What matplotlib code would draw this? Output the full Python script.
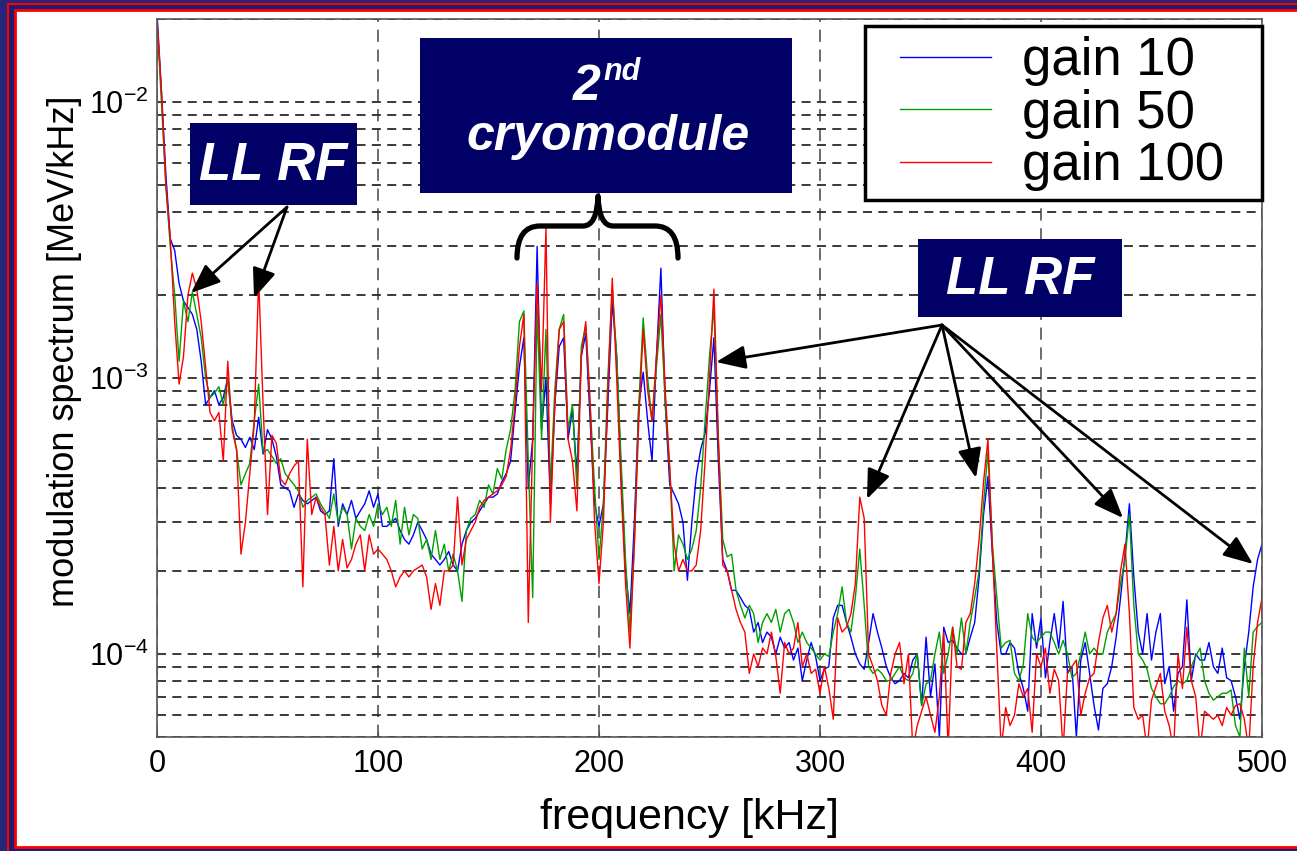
import numpy as np
import matplotlib
matplotlib.use('Agg')
import matplotlib.pyplot as plt
from matplotlib.patches import Rectangle, PathPatch
from matplotlib.path import Path
from matplotlib.transforms import Affine2D

# frequency grid [kHz], one point every 2 kHz
freq = np.arange(0, 501, 2)

# modulation spectrum, in units of 1e-4 MeV/kHz
gain10 = [
    210, 110, 55, 32, 29, 22, 19, 18, 17, 15,
    11.5, 8, 8.5, 9, 8, 8.5, 10, 7, 6.2, 6,
    5.6, 6.1, 5.5, 7.2, 5.3, 6.5, 6, 5.2, 4.1, 4.0,
    3.9, 3.4, 3.8, 3.6, 3.5, 3.6, 3.7, 3.3, 3.2, 3.3,
    5.1, 2.9, 3.5, 3.2, 3.6, 3.1, 3.3, 3.5, 3.9, 3.4,
    3.8,
    2.9, 2.9, 3.0, 3.1, 2.8, 2.6, 2.5, 2.7, 3.0, 2.8,
    2.6, 2.3, 2.2, 2.1, 2.2, 2.35, 2.1, 2.0, 2.5, 2.8,
    3.0, 3.1, 3.3, 3.5, 3.7, 3.7, 3.8, 4.2, 4.5, 5.0,
    7.5, 11, 14, 4, 6, 30, 6.5, 10, 3.5, 8,
    13, 14, 6, 7.7, 4.5, 12, 14.5, 7, 3.5, 2.9,
    3.5, 8, 19, 12, 4.5, 2, 1.4, 3, 8, 10.5,
    7, 5, 12, 25, 8, 4.1, 3.8, 3.5, 3.0, 1.85,
    3.0, 4.4, 5.5, 6.3, 9, 14, 5, 2.2, 2.0, 1.7,
    1.7, 1.6, 1.5, 1.45, 1.2, 1.3, 1.1, 1.2, 1.15, 1.0,
    1.15, 1.05, 1.1, 0.95, 1.05, 0.8, 0.95, 1.1, 0.98, 0.8,
    0.88, 0.9, 1.35, 1.5, 1.5, 1.3, 1.15, 1.0, 0.92, 0.88,
    1.1, 1.4, 1.2, 1.05, 0.9, 0.82, 0.78, 0.8, 0.85, 0.82,
    0.95, 1.0, 0.65, 1.15, 0.7, 0.92, 0.5, 1.25, 1.1, 1.12,
    1.05, 1.0, 1.0, 1.15, 1.3, 1.9, 3.2, 4.4, 2.3, 1.3,
    1.0, 1.0, 1.1, 1.05, 0.85, 0.75, 0.62, 1.4, 1.05, 1.35,
    0.82, 1.1, 1.4, 1.05, 1.55, 0.85, 0.9, 0.5, 0.95, 1.1,
    0.85, 0.65, 0.53, 0.75, 0.78, 0.9, 1.15, 1.6, 2.3, 3.5,
    1.9, 1.2, 1.0, 1.4, 0.95, 1.2, 1.4, 0.78, 0.9, 0.62,
    0.85, 0.9, 1.57, 0.8, 1.0, 0.95, 0.95, 1.1, 0.9, 0.85,
    1.05, 0.82, 0.8, 0.7, 0.58, 0.9, 1.2, 1.75, 2.2, 2.5,
]
gain50 = [
    200, 100, 50, 30, 20, 11.5, 19, 16, 20.5, 17,
    14, 10, 8.5, 8.8, 9.3, 8, 10, 6.7, 5.5, 4.1,
    4.5, 4.9, 7, 9.5, 5.4, 5.5, 5.2, 4.9, 5.1, 4.5,
    4.3, 4.1, 3.9, 3.4, 3.6, 3.7, 3.8, 3.5, 3.3, 3.1,
    3.8, 3.0, 3.4, 3.2, 2.4, 3.1, 2.9, 2.8, 3.2, 2.9,
    3.5,
    3.2, 3.4, 2.9, 3.6, 2.5, 3.4, 2.7, 3.2, 3.1, 2.4,
    2.6, 2.2, 2.8, 2.2, 2.5, 2.0, 2.3, 2.0, 1.55, 2.8,
    3.1, 3.2, 3.6, 3.4, 4.1, 3.8, 4.7, 4.3, 5.5, 6.5,
    9, 16, 17.5, 5, 1.6, 18, 6, 15, 4, 9,
    15, 17, 6.5, 8, 4, 13, 15.5, 8, 4, 2.2,
    3.5, 10, 21, 12, 5, 2.2, 1.2, 2.5, 8, 16.5,
    10, 7, 11, 17, 8, 4.7, 2.0, 2.7, 2.5, 2.2,
    2.4, 2.8, 4, 7, 12, 18, 6, 2.6, 2.25, 2.3,
    1.7, 1.5, 1.35, 1.5, 1.4, 1.1, 1.3, 1.4, 1.3, 1.45,
    1.2, 1.4, 1.45, 1.3, 1.1, 1.2, 1.1, 1.05, 1.0, 0.95,
    1.0, 0.98, 1.2, 1.4, 1.75, 1.3, 1.2, 1.6, 2.4, 1.5,
    0.9, 0.85, 0.88, 0.85, 0.8, 0.8, 0.85, 0.9, 0.82, 0.8,
    0.85, 1.0, 0.65, 0.78, 0.8, 1.0, 1.2, 0.85, 1.0, 1.25,
    1.0, 1.35, 1.0, 1.3, 1.6, 2.0, 3.5, 5.4, 2.5, 1.6,
    1.05, 1.1, 1.12, 0.85, 0.8, 0.92, 1.4, 1.15, 1.1, 1.15,
    1.2, 1.2, 1.1, 1.0, 1.12, 1.0, 0.82, 0.85, 1.0, 1.2,
    1.0, 1.05, 1.0, 1.0, 1.2, 1.3, 1.4, 1.8, 2.2, 3.2,
    1.5, 1.0, 0.95, 0.88, 0.75, 0.7, 0.66, 0.66, 0.7, 0.76,
    0.8, 0.78, 0.8, 0.9, 0.98, 1.05, 0.8, 0.72, 0.68, 0.7,
    0.72, 0.72, 0.74, 0.55, 0.5, 1.05, 0.7, 1.2, 1.26, 1.3,
]
gain100 = [
    200, 110, 50, 32, 16, 9.5, 12, 20, 24, 21,
    16, 11, 7.5, 7, 7.5, 5, 11.5, 6.5, 5.5, 2.3,
    3, 4.5, 6.8, 23, 8, 3.2, 6.2, 5.8, 4.3, 4.1,
    4.5, 4.8, 5, 1.75, 6, 3.2, 3.7, 3.4, 3.2, 2.1,
    2.9, 2.0, 2.6, 2.05, 2.2, 2.5, 2.7, 2.0, 2.7, 2.3,
    2.4,
    2.3, 2.2, 2.0, 1.75, 1.9, 2.0, 1.9, 2.0, 2.05, 2.1,
    1.9, 1.45, 1.8, 1.5, 2.0, 2.0, 2.1, 3.7, 2.1, 2.6,
    2.8, 3.0, 3.4, 3.6, 3.7, 3.8, 3.9, 4.1, 4.4, 5.5,
    8, 13, 17, 1.3, 6, 22, 9, 35, 3, 8,
    15, 16, 6, 5, 3.3, 12, 16, 8, 3, 1.8,
    3, 9, 23, 10, 4, 1.8, 1.05, 2.5, 7, 15,
    9, 7, 12, 20, 9, 4.7, 2.5, 2.0, 2.2, 2.0,
    2.0, 2.1, 2.8, 5, 10, 21, 6, 2.1, 2.0, 1.7,
    1.45, 1.3, 1.2, 0.85, 1.0, 0.9, 1.05, 1.0, 1.2, 0.98,
    0.72, 1.1, 1.0, 1.05, 1.3, 0.9, 1.0, 0.85, 0.88, 0.72,
    0.9, 0.75, 0.58, 1.35, 1.2, 1.25, 1.4, 1.8, 3.7, 3.1,
    1.0, 0.9, 0.8, 0.65, 0.6, 0.85, 1.0, 1.1, 0.78, 1.0,
    0.45, 0.55, 0.62, 0.7, 0.6, 0.52, 0.7, 1.2, 0.45, 1.25,
    0.9, 0.88, 1.3, 1.4, 1.8, 2.6, 4.2, 6.0, 2.4, 1.05,
    0.45, 0.64, 0.55, 0.6, 0.78, 0.7, 0.75, 0.52, 1.0, 0.9,
    1.05, 0.72, 0.88, 0.8, 0.45, 0.86, 0.9, 0.95, 0.6, 0.72,
    0.82, 0.85, 1.1, 1.35, 1.5, 1.2, 1.4, 2.0, 2.5, 1.4,
    0.64, 0.58, 0.6, 0.45, 0.68, 0.76, 0.85, 0.62, 0.55, 0.45,
    1.0, 0.75, 1.25, 0.8, 0.7, 0.45, 0.62, 0.6, 0.58, 0.6,
    0.55, 0.64, 0.6, 0.65, 0.66, 0.58, 0.45, 0.9, 1.3, 1.6,
]
series_labels = ['gain 10', 'gain 50', 'gain 100']
series_colors = ['#0000ff', '#00a000', '#ff0000']
xticks = [0, 100, 200, 300, 400, 500]

W, H = 1297, 851
plt.rcParams['font.family'] = ['Liberation Sans', 'DejaVu Sans']

fig = plt.figure(figsize=(W / 100, H / 100), dpi=100)
fig.patch.set_facecolor('#26267a')
# pixel coordinates (origin top-left) -> display
pix = Affine2D().scale(1 / W, -1 / H).translate(0, 1) + fig.transFigure

# slide frame: red double border on a navy background
fig.add_artist(Rectangle((8, 3.5), W, H, transform=pix, fc='#1c1c70',
                         ec='#ff0000', lw=1.5, zorder=0))
fig.add_artist(Rectangle((14.5, 10), W, 837, transform=pix, fc='white',
                         ec='#ff0000', lw=2, zorder=0))

ax = fig.add_axes([157 / W, 1 - 737 / H, (1262 - 157) / W, (737 - 19) / H])
for vals, lab, col in zip([gain10, gain50, gain100], series_labels, series_colors):
    ax.plot(freq, np.array(vals) * 1e-4, color=col, lw=1.0, label=lab)

ax.set_yscale('log')
ax.set_xlim(0, 500)
ax.set_ylim(5e-5, 2e-2)
ax.set_xticks(xticks)
ax.tick_params(axis='both', which='both', direction='in', colors='#444444')
ax.tick_params(axis='x', labelsize=22, labelcolor='black', pad=9)
ax.tick_params(axis='y', labelsize=22, labelcolor='black', pad=6)
ax.tick_params(axis='y', which='minor', labelleft=False)
ax.grid(True, axis='y', which='both', color='#2a2a2a', lw=1.3,
        linestyle=(0, (5, 3.5)))
ax.grid(True, axis='x', which='major', color='#444444', lw=1.1,
        linestyle=(0, (8, 5)))
for sp in ax.spines.values():
    sp.set_color('#555555')
    sp.set_linewidth(1.2)

ax.set_xlabel('frequency [kHz]', fontsize=31)
ax.xaxis.set_label_coords(0.482, -0.085)
ax.set_ylabel('modulation spectrum [MeV/kHz]', fontsize=26)
ax.yaxis.set_label_coords(-0.068, 0.537)

# legend: white box drawn by hand, entries placed inside it
ax.add_patch(Rectangle((865, 26), 397, 174, transform=pix, fc='white',
                       ec='black', lw=2.5, zorder=4, clip_on=False))
leg = ax.legend(loc='upper left', bbox_to_anchor=(900 / W, 1 - 36 / H),
                bbox_transform=fig.transFigure, borderaxespad=0, borderpad=0,
                prop={'size': 38}, handlelength=1.72, handletextpad=0.59,
                labelspacing=0.05, frameon=False)
leg.set_zorder(5)

# annotation boxes
navy = '#000066'
bold_it = dict(color='white', fontweight='bold', fontstyle='italic',
               transform=pix, zorder=6)
fig.add_artist(Rectangle((190, 123), 167, 82, transform=pix, fc=navy, ec='none', zorder=5))
fig.text(273, 166, 'LL RF', ha='center', va='center', fontsize=38, **bold_it)
fig.add_artist(Rectangle((420, 38), 372, 155, transform=pix, fc=navy, ec='none', zorder=5))
fig.text(601, 100, '2', ha='right', va='baseline', fontsize=36, **bold_it)
fig.text(603, 80, 'nd', ha='left', va='baseline', fontsize=22, **bold_it)
fig.text(608, 137, 'cryomodule', ha='center', va='center', fontsize=36, **bold_it)
fig.add_artist(Rectangle((918, 239), 204, 78, transform=pix, fc=navy, ec='none', zorder=5))
fig.text(1020, 280, 'LL RF', ha='center', va='center', fontsize=38, **bold_it)

# curly brace under the cryomodule box
brace = Path([(517, 258), (517, 226), (540, 226), (583, 226), (597, 226), (598, 196),
              (599, 226), (613, 226), (655, 226), (678, 226), (678, 258)],
             [Path.MOVETO, Path.CURVE3, Path.CURVE3, Path.LINETO, Path.CURVE3, Path.CURVE3,
              Path.CURVE3, Path.CURVE3, Path.LINETO, Path.CURVE3, Path.CURVE3])
fig.add_artist(PathPatch(brace, transform=pix, fill=False, lw=3.8, ec='black',
                         capstyle='round', joinstyle='round', zorder=6))

# arrows
arrow_kw = dict(arrowstyle='-|>,head_length=0.75,head_width=0.3', color='black',
                lw=2.0, mutation_scale=24, shrinkA=0, shrinkB=0)
arrows = [((287, 207), (191, 293)), ((287, 207), (254, 298)),
          ((942, 325), (716, 362)), ((942, 325), (867, 499)),
          ((942, 325), (976, 478)), ((942, 325), (1123, 518)),
          ((942, 325), (1253, 564))]
for start, tip in arrows:
    ax.annotate('', xy=tip, xycoords=pix, xytext=start, textcoords=pix,
                arrowprops=arrow_kw, annotation_clip=False, zorder=7)

fig.savefig('out.png', dpi=100, facecolor=fig.get_facecolor())
